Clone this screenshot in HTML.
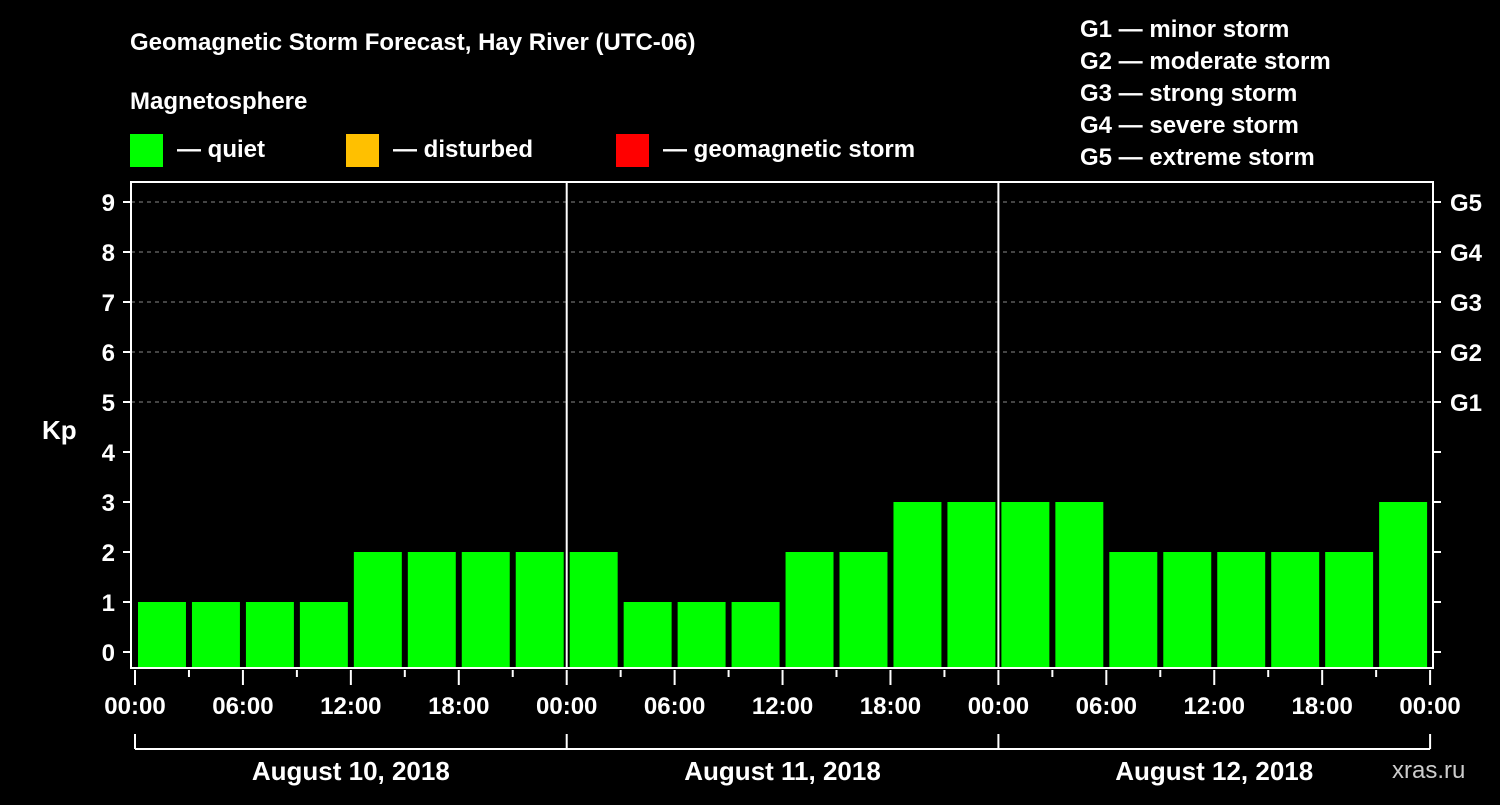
<!DOCTYPE html>
<html><head><meta charset="utf-8"><style>
body{margin:0;background:#000;width:1500px;height:800px;overflow:hidden}
svg text{font-family:"Liberation Sans",Arial,sans-serif;font-weight:bold;fill:#fff}
</style></head><body>
<svg id="c" width="1500" height="800" xmlns="http://www.w3.org/2000/svg">
<text x="130" y="50" font-size="24">Geomagnetic Storm Forecast, Hay River (UTC-06)</text>
<text x="130" y="109" font-size="24">Magnetosphere</text>
<rect x="130" y="134" width="33" height="33" fill="#00ff00"/>
<text x="177" y="157" font-size="24">— quiet</text>
<rect x="346" y="134" width="33" height="33" fill="#ffc000"/>
<text x="393" y="157" font-size="24">— disturbed</text>
<rect x="616" y="134" width="33" height="33" fill="#ff0000"/>
<text x="663" y="157" font-size="24">— geomagnetic storm</text>
<g font-size="24">
<text x="1080" y="37">G1 — minor storm</text>
<text x="1080" y="69">G2 — moderate storm</text>
<text x="1080" y="101">G3 — strong storm</text>
<text x="1080" y="133">G4 — severe storm</text>
<text x="1080" y="165">G5 — extreme storm</text>
</g>
<text x="42" y="439" font-size="26">Kp</text>
<text x="1392" y="778" font-size="24" fill="#ccc" style="fill:#ccc;font-weight:normal">xras.ru</text>
<g id="plot"></g>
</svg>
<script>
const values=[1,1,1,1,2,2,2,2, 2,1,1,1,2,2,3,3, 3,3,2,2,2,2,2,3];
const dayLabels=["August 10, 2018","August 11, 2018","August 12, 2018"];
const timeLabels=["00:00","06:00","12:00","18:00"];
const yTicks=[0,1,2,3,4,5,6,7,8,9];
const gLabels=["G1","G2","G3","G4","G5"];
const NS="http://www.w3.org/2000/svg";
const g=document.getElementById('plot');
const X0=135,DAYW=431.7,L=131,R=1433,T=182,B=668;
const xs=h=>X0+h/72*DAYW*3/3;
const xh=h=>X0+h*DAYW/24;
const y=v=>652-50*v;
function mk(t,a){const e=document.createElementNS(NS,t);for(const k in a)e.setAttribute(k,a[k]);g.appendChild(e);return e;}
// grid
for(let v=5;v<=9;v++){const l=mk('line',{x1:L,x2:R,y1:y(v),y2:y(v),stroke:'#888','stroke-dasharray':'4,4'});

}
// bars
values.forEach((v,i)=>{const x=xh(i*3)+3,w=xh(3)-xh(0)-6;
const r=mk('rect',{x:x,y:y(v),width:w,height:B-y(v),fill:'#00ff00'});

});
// frame
const f=mk('rect',{x:L,y:T,width:R-L,height:B-T,fill:'none',stroke:'#fff','stroke-width':2});


// day separators
for(let d=1;d<3;d++){const l=mk('line',{x1:xh(d*24),x2:xh(d*24),y1:T,y2:B,stroke:'#fff','stroke-width':2});

}
// y ticks
yTicks.forEach(v=>{mk('line',{x1:L-8,x2:L,y1:y(v),y2:y(v),stroke:'#fff','stroke-width':2});
mk('line',{x1:R,x2:R+8,y1:y(v),y2:y(v),stroke:'#fff','stroke-width':2});
const t=mk('text',{x:L-16,y:y(v)+9,'font-size':24,'text-anchor':'end'});t.textContent=v;

});
gLabels.forEach((s,i)=>{const t=mk('text',{x:1450,y:y(5+i)+9,'font-size':24});t.textContent=s;

});
// x ticks
for(let h=0;h<=72;h+=3){const major=h%6==0;mk('line',{x1:xh(h),x2:xh(h),y1:B+2,y2:B+(major?17:9),stroke:'#fff','stroke-width':2});
if(major){const t=mk('text',{x:xh(h),y:714,'font-size':24,'text-anchor':'middle'});t.textContent=timeLabels[(h/6)%4];

}}
// day brackets
mk('line',{x1:xh(0),x2:xh(72),y1:749,y2:749,stroke:'#fff','stroke-width':2});
for(let d=0;d<=3;d++)mk('line',{x1:xh(d*24),x2:xh(d*24),y1:734,y2:749,stroke:'#fff','stroke-width':2});
dayLabels.forEach((s,d)=>{const t=mk('text',{x:xh(d*24+12),y:780,'font-size':26,'text-anchor':'middle'});t.textContent=s;

});
</script>
</body></html>
